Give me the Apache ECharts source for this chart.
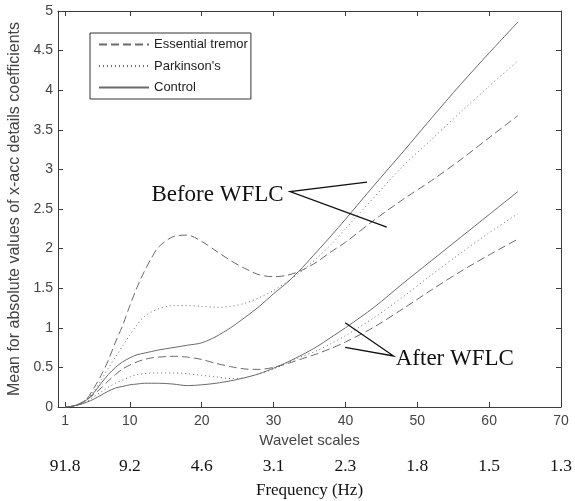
<!DOCTYPE html>
<html><head><meta charset="utf-8">
<script src="https://cdn.jsdelivr.net/npm/echarts@6/dist/echarts.min.js"></script>
<style>html,body{margin:0;padding:0;background:#fff}#c{width:575px;height:501px}</style>
</head><body><div id="c"></div>
<script>
const scales = [1,2,3,4,5,6,7,8,9,10,11,12,13,14,16,18,20,22,24,26,28,30,32,34,36,38,40,44,48,52,56,60,64];
const etBefore = [0,0.01,0.04,0.10,0.24,0.40,0.59,0.82,1.03,1.28,1.51,1.71,1.88,2.02,2.15,2.17,2.09,1.97,1.85,1.75,1.67,1.645,1.665,1.73,1.83,1.96,2.08,2.36,2.62,2.86,3.12,3.40,3.68];
const pdBefore = [0,0.01,0.04,0.10,0.20,0.34,0.49,0.63,0.77,0.91,1.04,1.14,1.20,1.24,1.28,1.28,1.27,1.26,1.27,1.31,1.38,1.47,1.59,1.72,1.88,2.05,2.25,2.65,3.04,3.38,3.72,4.05,4.37];
const ctBefore = [0,0.01,0.04,0.09,0.18,0.30,0.41,0.50,0.57,0.62,0.66,0.68,0.70,0.72,0.75,0.78,0.81,0.89,1.00,1.13,1.27,1.43,1.58,1.76,1.96,2.16,2.37,2.80,3.22,3.65,4.07,4.47,4.86];
const etAfter = [0,0.01,0.04,0.09,0.16,0.24,0.33,0.41,0.48,0.53,0.57,0.60,0.62,0.63,0.64,0.63,0.60,0.55,0.51,0.48,0.475,0.50,0.55,0.61,0.67,0.74,0.82,1.01,1.24,1.48,1.71,1.92,2.12];
const pdAfter = [0,0.01,0.03,0.07,0.13,0.19,0.25,0.30,0.34,0.38,0.41,0.42,0.43,0.43,0.43,0.42,0.40,0.38,0.36,0.37,0.42,0.48,0.56,0.64,0.71,0.80,0.90,1.13,1.39,1.67,1.94,2.20,2.44];
const ctAfter = [0,0.01,0.03,0.06,0.10,0.15,0.20,0.24,0.26,0.28,0.29,0.30,0.30,0.30,0.29,0.27,0.28,0.30,0.33,0.37,0.42,0.49,0.57,0.66,0.76,0.88,1.00,1.26,1.56,1.85,2.14,2.43,2.72];
const scaleTicks = [1,10,20,30,40,50,60,70];
const freqLabels = ['91.8','9.2','4.6','3.1','2.3','1.8','1.5','1.3'];
const legendNames = ['Essential tremor',"Parkinson's",'Control'];
// annotations in data coordinates
const beforeText = {x:13.0, y:2.68, text:'Before WFLC'};
const beforeLines = [[43.0,2.84],[32.3,2.72],[45.75,2.27]];
const afterText = {x:47.0, y:0.61, text:'After WFLC'};
const afterLines = [[39.96,1.064],[46.7,0.644],[39.96,0.754]];

const chart = echarts.init(document.getElementById('c'), null, {renderer:'canvas'});
const lineColor = '#6a6a6a';
const sans = 'Liberation Sans, Arial, sans-serif';
const serif = 'Liberation Serif, Times New Roman, serif';
function pts(vals){ return scales.map((s,i)=>[s, vals[i]]); }
function mk(name, vals, type){
  return {name, type:'line', data:pts(vals), symbol:'none', showSymbol:false, smooth:0.3,
    lineStyle:{color:lineColor, width:1, type:type}, itemStyle:{color:lineColor}, z:3};
}
const axisLine = {show:true, onZero:false, lineStyle:{color:'#3c3c3c', width:1}};
chart.setOption({
  animation:false,
  grid:{left:58, right:14, top:11, bottom:94, containLabel:false, outerBoundsMode:'none'},
  legend:{data:legendNames, orient:'vertical', left:90, top:33,
    padding:[5,3,5,8], itemWidth:50, itemHeight:14, itemGap:8.5,
    borderColor:'#333', borderWidth:1, backgroundColor:'#fff',
    itemStyle:{opacity:0, borderWidth:0},
    textStyle:{fontFamily:sans, fontSize:13, color:'#222'}, selectedMode:false},
  xAxis:[
    {type:'value', min:0, max:70, position:'bottom',
     name:'Wavelet scales', nameLocation:'middle', nameGap:26,
     nameTextStyle:{fontFamily:sans, fontSize:15, color:'#444'},
     axisLine, splitLine:{show:false},
     axisTick:{inside:true, length:5, customValues:scaleTicks, lineStyle:{color:'#3c3c3c'}},
     axisLabel:{customValues:scaleTicks, fontFamily:sans, fontSize:14, color:'#444', margin:7}},
    {type:'value', min:0, max:70, position:'top',
     axisLine, splitLine:{show:false},
     axisTick:{inside:true, length:5, customValues:scaleTicks, lineStyle:{color:'#3c3c3c'}},
     axisLabel:{show:false}},
    {type:'value', min:0, max:70, position:'bottom',
     name:'Frequency (Hz)', nameLocation:'middle', nameGap:75,
     nameTextStyle:{fontFamily:serif, fontSize:17, color:'#111'},
     axisLine:{show:false, onZero:false}, axisTick:{show:false}, splitLine:{show:false},
     axisLabel:{customValues:scaleTicks, margin:50, fontFamily:serif, fontSize:17.5, color:'#111',
       formatter:(v)=>{const i=scaleTicks.indexOf(v); return i>=0?freqLabels[i]:'';}}}
  ],
  yAxis:[
    {type:'value', min:0, max:5, interval:0.5, position:'left',
     name:'Mean for absolute values of x-acc details coefficients', nameLocation:'middle', nameGap:22,
     nameTextStyle:{fontFamily:sans, fontSize:16, color:'#444'},
     axisLine, splitLine:{show:false},
     axisTick:{inside:true, length:5, lineStyle:{color:'#3c3c3c'}},
     axisLabel:{fontFamily:sans, fontSize:14, color:'#444', margin:5}},
    {type:'value', min:0, max:5, interval:0.5, position:'right',
     axisLine, splitLine:{show:false},
     axisTick:{inside:true, length:5, lineStyle:{color:'#3c3c3c'}},
     axisLabel:{show:false}}
  ],
  series:[
    mk('Essential tremor', etBefore, [8,4]),
    mk("Parkinson's", pdBefore, [1,3]),
    mk('Control', ctBefore, 'solid'),
    mk('Essential tremor', etAfter, [8,4]),
    mk("Parkinson's", pdAfter, [1,3]),
    mk('Control', ctAfter, 'solid')
  ]
});
function px(p){ return chart.convertToPixel({xAxisIndex:0, yAxisIndex:0}, p); }
const bt = px([beforeText.x, beforeText.y]);
const at = px([afterText.x, afterText.y]);
chart.setOption({graphic:[
  {type:'polyline', shape:{points:beforeLines.map(px)}, style:{stroke:'#111', lineWidth:1.3, fill:null}, z:10},
  {type:'polyline', shape:{points:afterLines.map(px)}, style:{stroke:'#111', lineWidth:1.3, fill:null}, z:10},
  {type:'text', x:bt[0], y:bt[1], style:{text:beforeText.text, font:'23px '+serif, fill:'#111', verticalAlign:'middle'}, z:10},
  {type:'text', x:at[0], y:at[1], style:{text:afterText.text, font:'23px '+serif, fill:'#111', verticalAlign:'middle'}, z:10}
]});
</script></body></html>
